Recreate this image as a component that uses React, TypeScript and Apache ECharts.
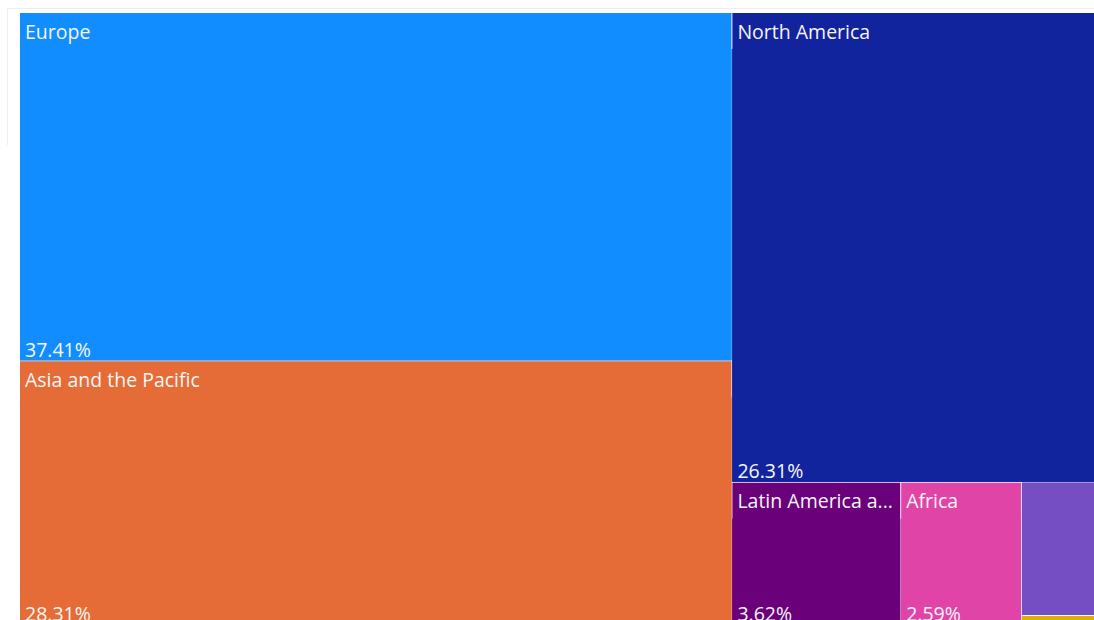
import React, { useEffect, useRef } from "react";
import * as echarts from "echarts";

const regions = [
  "Europe",
  "Asia and the Pacific",
  "North America",
  "Latin America and the Caribbean",
  "Africa",
  "Middle East",
  "Other",
];
const shares = [37.41, 28.31, 26.31, 3.62, 2.59, 1.65, 0.11];
const colors = ["#118DFF", "#E66C37", "#12239E", "#6B007B", "#E044A7", "#744EC2", "#D9B300"];
const showLabel = [true, true, true, true, true, false, false];

export default function App() {
  const ref = useRef<HTMLDivElement>(null);
  useEffect(() => {
    if (!ref.current) return;
    const chart = echarts.init(ref.current, null, { renderer: "svg" });
    const font = "'Open Sans', 'Segoe UI', sans-serif";
    const data = regions.map((name, i) => ({
      name,
      value: shares[i],
      itemStyle: { color: colors[i], borderColor: colors[i], borderWidth: 0, gapWidth: 0 },
      upperLabel: { show: showLabel[i] },
      children: [
        {
          name,
          value: shares[i],
          itemStyle: { color: colors[i], borderColor: colors[i], borderWidth: 0, gapWidth: 0 },
          label: {
            show: showLabel[i],
            formatter: shares[i].toFixed(2) + "%",
          },
        },
      ],
    }));
    chart.setOption({
      animation: false,
      backgroundColor: "#ffffff",
      graphic: [
        { type: "line", shape: { x1: 7, y1: 8.5, x2: 1094, y2: 8.5 }, style: { stroke: "#eeeeee", lineWidth: 1 }, z: -1 },
        { type: "line", shape: { x1: 7.5, y1: 8, x2: 7.5, y2: 145 }, style: { stroke: "#eeeeee", lineWidth: 1 }, z: -1 },
      ],
      series: [
        {
          type: "treemap",
          left: 20,
          top: 13,
          width: 1083,
          height: 611,
          roam: false,
          nodeClick: false,
          breadcrumb: { show: false },
          sort: "desc",
          data,
          levels: [
            {
              itemStyle: { gapWidth: 1, borderWidth: 0, borderColor: "#f4f2fb" },
            },
            {
              itemStyle: { borderWidth: 0, gapWidth: 0 },
              upperLabel: {
                show: true,
                height: 36,
                color: "#f6f6f6",
                fontSize: 19.5,
                fontFamily: font,
                padding: [0, 0, 0, 5],
                overflow: "truncate",
                ellipsis: "...",
              },
            },
            {
              itemStyle: { borderWidth: 0, gapWidth: 0 },
              label: {
                show: true,
                position: "insideBottomLeft",
                distance: 0,
                padding: [0, 0, 0, 5],
                color: "#f6f6f6",
                fontSize: 19.5,
                lineHeight: 22,
                fontFamily: font,
              },
            },
          ],
        },
      ],
    });
    return () => chart.dispose();
  }, []);
  return (
    <div
      ref={ref}
      style={{ position: "fixed", left: 0, top: 0, width: 1094, height: 620, overflow: "hidden" }}
    />
  );
}
